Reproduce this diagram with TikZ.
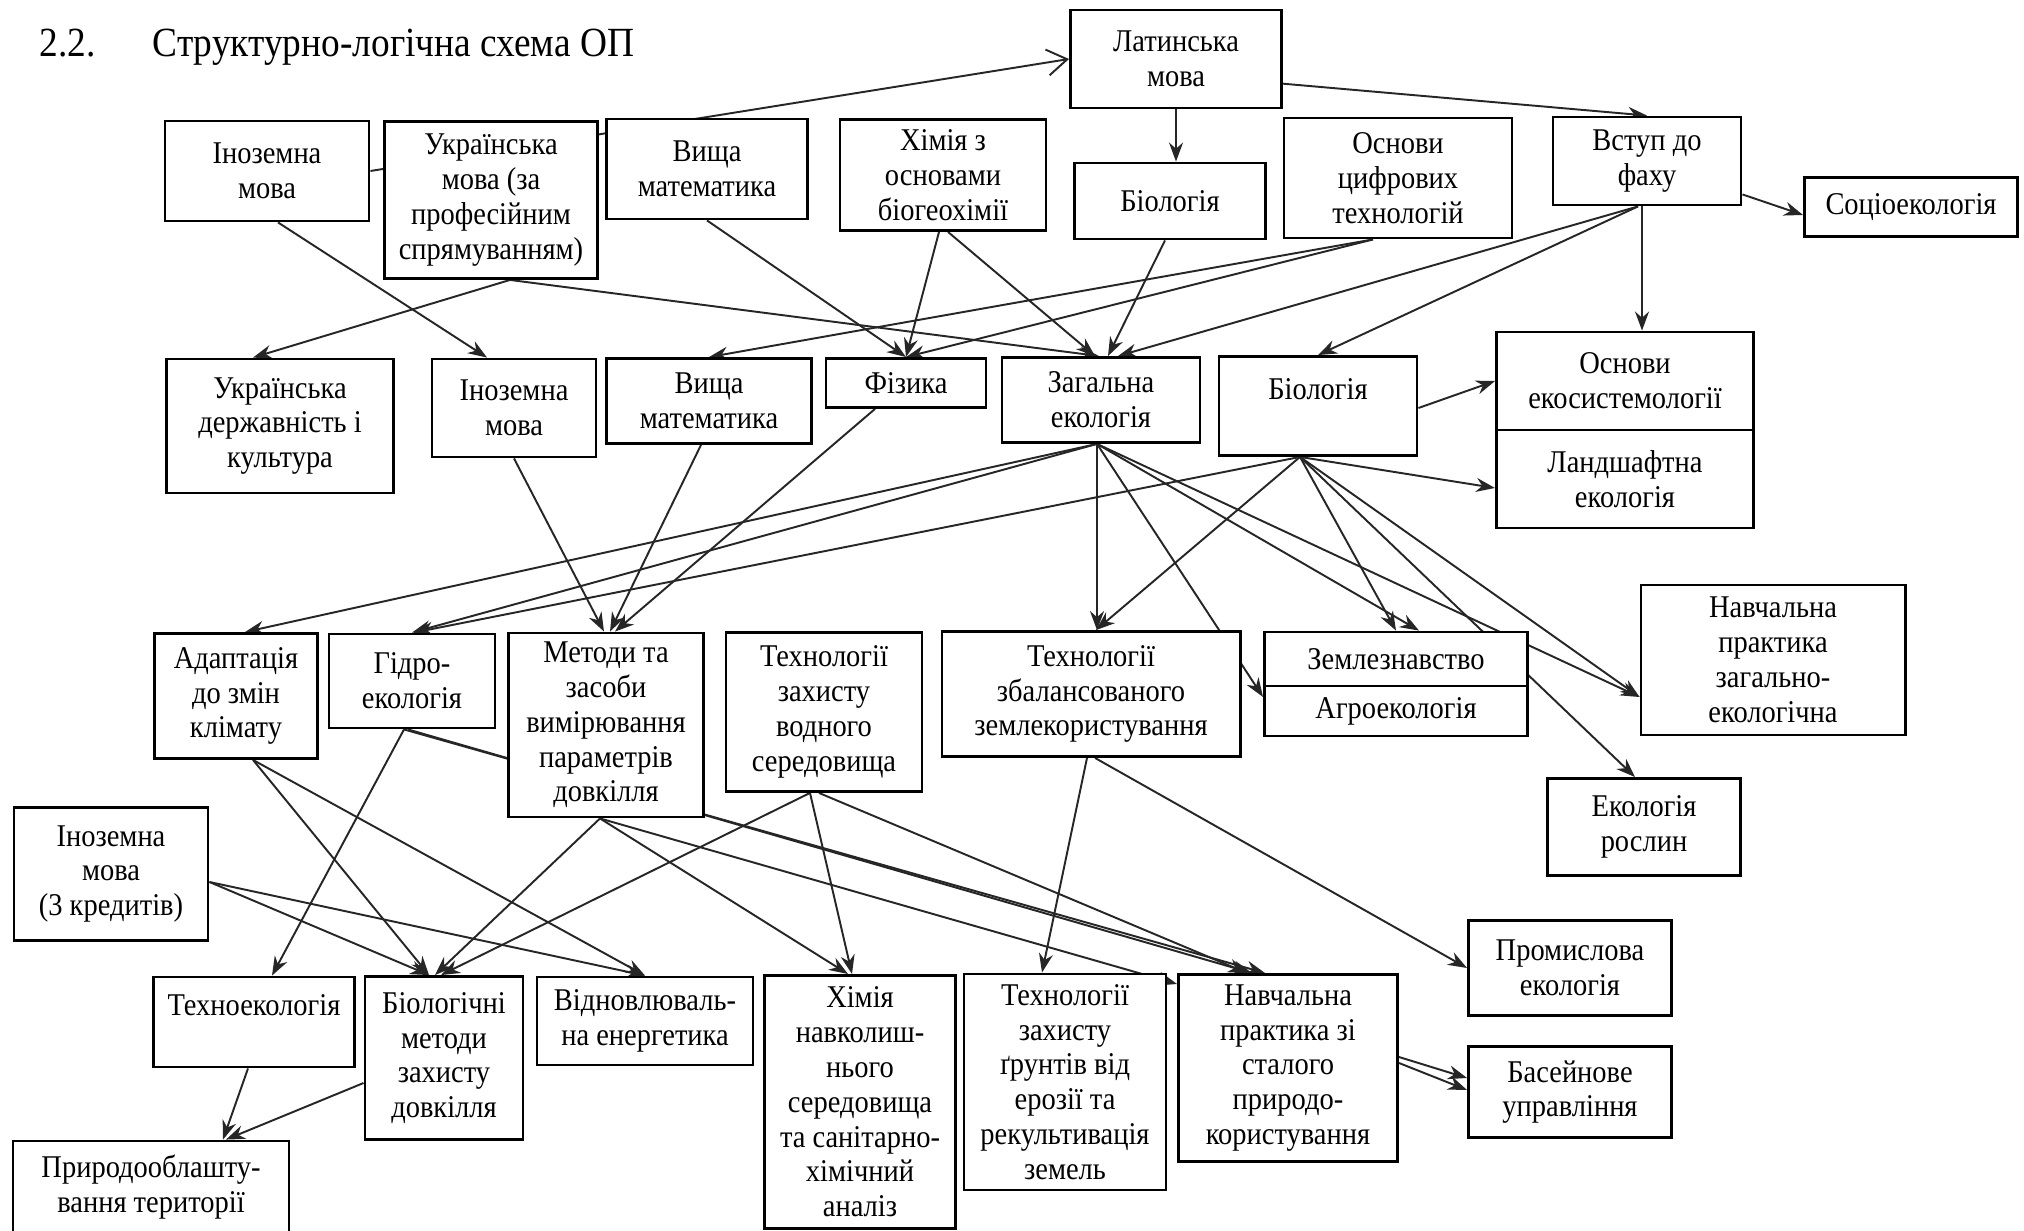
\documentclass[tikz,border=0pt]{standalone}
\usepackage{fontspec}
\setmainfont{Liberation Serif}[FakeStretch=0.9]
\usetikzlibrary{arrows.meta,calc,backgrounds}
\tikzset{
  % plain white box, size given in cm
  box/.style 2 args = {rectangle, draw=black, fill=white, line width=0.8pt, align=center,
                       inner sep=1pt, font=\fontsize{9}{9.9}\selectfont,
                       minimum width=#1cm, minimum height=#2cm},
  arr/.style  = {-{Stealth[length=1.9mm,width=1.4mm]}, line width=0.55pt, draw=black!85},
  head/.style = {anchor=base west, inner sep=0pt, font=\fontsize{11.8}{14}\selectfont},
}

\begin{document}
\begin{tikzpicture}[x=0.01cm,y=-0.01cm]
\useasboundingbox (0,0) rectangle (2024,1231);
% heading
\node[head] (num) at (39,57) {2.2.};
\node[head] (ttl) at (152,57) {Структурно-логічна схема ОП};
% top row
\node[box={2.11}{0.98}] (lat) at (1176,59) {Латинська\\мова};
\node[box={2.04}{1.00}] (inoz1) at (267,171) {Іноземна\\мова};
\node[box={2.13}{1.57}] (ukrm) at (491,200) {Українська\\мова (за\\професійним\\спрямуванням)};
\node[box={2.01}{1.00}] (vm1) at (707,169) {Вища\\математика};
\node[box={2.06}{1.11}] (him1) at (943,175) {Хімія з\\основами\\біогеохімії};
\node[box={1.91}{0.76}] (bio1) at (1170,201) {Біологія};
\node[box={2.28}{1.20}] (cifr) at (1398,178) {Основи\\цифрових\\технологій};
\node[box={1.88}{0.88}] (vstup) at (1647,161) {Вступ до\\фаху};
\node[box={2.13}{0.59}] (socio) at (1911,207) {Соціоекологія};
% second row
\node[box={2.27}{1.34}] (ukrd) at (280,426) {Українська\\державність і\\культура};
\node[box={1.64}{0.98}] (inoz2) at (514,408) {Іноземна\\мова};
\node[box={2.05}{0.85}] (vm2) at (709,401) {Вища\\математика};
\node[box={1.60}{0.49}] (fiz) at (906,383) {Фізика};
\node[box={1.98}{0.85}] (zag) at (1101,400) {Загальна\\екологія};
\node[box={1.98}{0.99}] (bio2) at (1318,406) {Біологія\\\mbox{}};
\node[box={2.57}{0.98}] (ekos) at (1625,381) {Основи\\екосистемології};
\node[box={2.57}{0.98}] (land) at (1625,479) {Ландшафтна\\екологія};
% third row
\node[box={1.63}{1.25}] (adapt) at (236,696) {Адаптація\\до змін\\клімату};
\node[box={1.66}{0.94}] (gidro) at (412,681) {Гідро-\\екологія};
\node[box={1.95}{1.84}] (metod) at (606,725) {Методи та\\засоби\\вимірювання\\параметрів\\довкілля};
\node[box={1.96}{1.59}] (vodn) at (824,712) {Технології\\захисту\\водного\\середовища};
\node[box={2.98}{1.25}] (zbal) at (1091,694) {Технології\\збалансованого\\землекористування};
\node[box={2.63}{0.54}] (zeml) at (1396,659) {Землезнавство};
\node[box={2.63}{0.50}] (agro) at (1396,711) {Агроекологія};
\node[box={2.64}{1.50}] (navz) at (1773,660) {Навчальна\\практика\\загально-\\екологічна};
\node[box={1.93}{0.97}] (ekr) at (1644,827) {Екологія\\рослин};
% fourth row
\node[box={1.94}{1.33}] (inoz3) at (111,874) {Іноземна\\мова\\(3 кредитів)};
\node[box={2.03}{0.95}] (prom) at (1570,968) {Промислова\\екологія};
\node[box={2.03}{0.91}] (bas) at (1570,1092) {Басейнове\\управління};
% bottom row
\node[box={2.01}{0.90}] (tekh) at (254,1022) {Техноекологія\\\mbox{}};
\node[box={1.58}{1.63}] (biom) at (444,1058) {Біологічні\\методи\\захисту\\довкілля};
\node[box={2.16}{0.88}] (vidn) at (645,1021) {Відновлюваль-\\на енергетика};
\node[box={1.91}{2.53}] (himn) at (860,1102) {Хімія\\навколиш-\\нього\\середовища\\та санітарно-\\хімічний\\аналіз};
\node[box={2.02}{2.16}] (grun) at (1065,1082) {Технології\\захисту\\ґрунтів від\\ерозії та\\рекультивація\\земель};
\node[box={2.19}{1.87}] (navs) at (1288,1068) {Навчальна\\практика зі\\сталого\\природо-\\користування};
\node[box={2.76}{0.92}] (prir) at (151,1187) {Природооблашту-\\вання території};

% connectors, behind the boxes
\begin{scope}[on background layer]
\coordinate (vstups) at ($(vstup.south)+(-9,0)$);
\coordinate (vstupd) at ($(vstup.south)+(-5,0)$);
\coordinate (cifrs) at ($(cifr.south)+(-25,0)$);
\coordinate (ukrms) at ($(ukrm.south)+(19,0)$);
\coordinate (zags) at ($(zag.south)+(-4,0)$);
\coordinate (bio2s) at ($(bio2.south)+(-18,0)$);
\coordinate (metods) at ($(metod.south)+(-6,0)$);
\coordinate (vodns) at ($(vodn.south)+(-14,0)$);
\coordinate (zbals) at ($(zbal.south)+(4,0)$);
% top
\draw[arr, -{Straight Barb[length=2mm,width=2.6mm]}] (inoz1.east) -- (lat.west);
\draw[arr] (lat.-13) -- (vstup.north);
\draw[arr] (lat.south) -- (lat.south |- bio1.north);
\draw[arr] ($(vstup.south east)+(0,-12)$) -- ($(socio.west)+(0,8)$);
\draw[arr] (vstupd) -- (vstupd |- ekos.north);
\draw[arr] (vstups) -- (bio2.north);
\draw[arr] (vstups) -- ($(zag.north)+(17,0)$);
\draw[arr] (cifrs) -- (vm2.north);
\draw[arr] (cifrs) -- (fiz.north);
\draw[arr] ($(inoz1.south)+(11,0)$) -- ($(inoz2.north)+(-27,0)$);
\draw[arr] (ukrms) -- ($(ukrd.north)+(-27,0)$);
\draw[arr] (ukrms) -- ($(zag.north)+(-2,0)$);
\draw[arr] (vm1.south) -- (fiz.north);
\draw[arr] ($(him1.south)+(-4,0)$) -- (fiz.north);
\draw[arr] ($(him1.south)+(5,0)$) -- ($(zag.north)+(-6,0)$);
\draw[arr] ($(bio1.south)+(-5,0)$) -- ($(zag.north)+(7,0)$);
% second row down
\draw[arr] (inoz2.south) -- ($(metod.north)+(-2,0)$);
\draw[arr] ($(vm2.south)+(-8,0)$) -- ($(metod.north)+(4,0)$);
\draw[arr] ($(fiz.south)+(-31,0)$) -- ($(metod.north)+(9,0)$);
\draw[arr] (zags) -- ($(adapt.north)+(9,0)$);
\draw[arr] (zags) -- (gidro.north);
\draw[arr] (bio2s) -- ($(gidro.north)+(2,0)$);
\draw[arr] (zags) -- (zags |- zbal.north);
\draw[arr] (zags) -- ($(agro.west)+(0,-14)$);
\draw[arr] (zags) -- ($(zeml.north)+(23,0)$);
\draw[arr] (zags) -- ($(navz.west)+(0,37)$);
\draw[arr] (bio2s) -- ($(zbal.north)+(5,0)$);
\draw[arr] (bio2s) -- (zeml.north);
\draw[arr] (bio2s) -- ($(navz.west)+(0,37)$);
\draw[arr] (bio2s) -- ($(ekr.north)+(-9,0)$);
\draw[arr] (bio2s) -- ($(land.west)+(0,9)$);
\draw[arr] ($(bio2.east)+(0,2)$) -- (ekos.west);
% third row down
\draw[arr] ($(adapt.south)+(17,0)$) -- ($(biom.north)+(-15,0)$);
\draw[arr] ($(adapt.south)+(17,0)$) -- (vidn.north);
\draw[arr] ($(gidro.south)+(-8,0)$) -- ($(tekh.north)+(18,0)$);
\draw[arr] ($(gidro.south)+(-8,0)$) -- ($(navs.north)+(-23,0)$);
\draw[arr] ($(gidro.south)+(-4,0)$) -- ($(navs.north)+(-36,0)$);
\draw[arr] (metods) -- ($(biom.north)+(-9,0)$);
\draw[arr] (metods) -- ($(himn.north)+(-12,0)$);
\draw[arr] (metods) -- ($(navs.west)+(0,-84)$);
\draw[arr] (vodns) -- ($(himn.north)+(-8,0)$);
\draw[arr] ($(vodn.south)+(-5,0)$) -- ($(navs.north)+(-41,0)$);
\draw[arr] (vodns) -- ($(biom.north)+(-3,0)$);
\draw[arr] ($(zbal.south)+(-4,0)$) -- ($(grun.north)+(-23,0)$);
\draw[arr] (zbals) -- (prom.west);
% lower rows
\draw[arr] ($(inoz3.east)+(0,8)$) -- ($(biom.north)+(-15,0)$);
\draw[arr] ($(inoz3.east)+(0,8)$) -- (vidn.north);
\draw[arr] ($(navs.east)+(0,-11)$) -- ($(bas.west)+(0,-14)$);
\draw[arr] ($(navs.east)+(0,-5)$) -- ($(bas.west)+(0,-2)$);
\draw[arr] ($(biom.west)+(0,25)$) -- ($(prir.north)+(75,0)$);
\draw[arr] ($(tekh.south)+(-6,0)$) -- ($(prir.north)+(72,0)$);
\end{scope}
\end{tikzpicture}
\end{document}
